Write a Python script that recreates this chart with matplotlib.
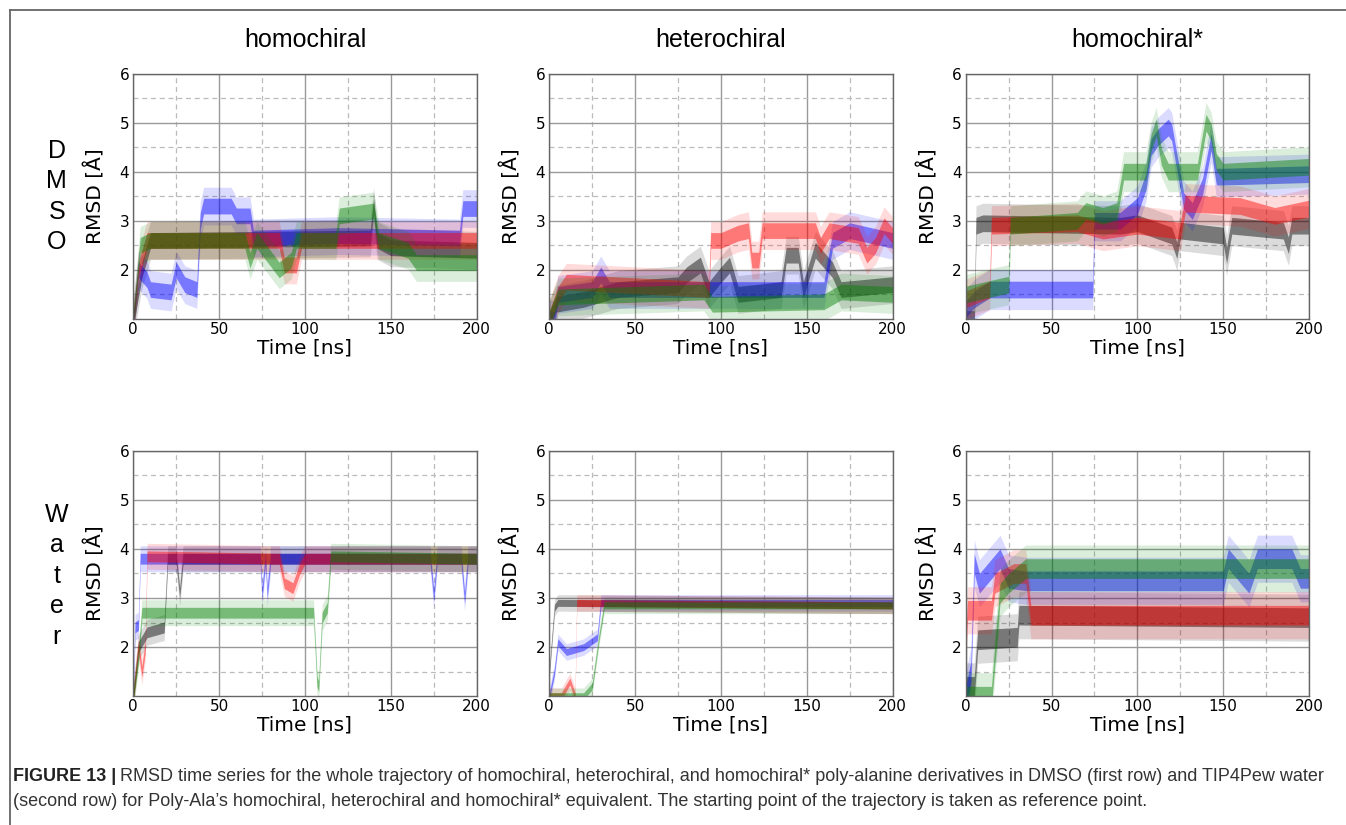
import numpy as np
import matplotlib.pyplot as plt
from matplotlib.lines import Line2D

# RMSD runs as (time [ns], RMSD [Angstrom]) knots
# DMSO, homochiral
dmso_homo_gray = [(0, 1.0), (5, 2.0), (10, 2.6), (138, 2.65), (140, 3.3), (142, 2.6),
                  (150, 2.45), (200, 2.4)]
dmso_homo_blue = [(0, 1.0), (3, 2.0), (8, 1.8), (10, 1.6), (22, 1.55), (25, 2.0), (30, 1.7),
                  (37, 1.6), (39, 3.0), (41, 3.3), (57, 3.3), (60, 3.1), (68, 3.1), (70, 2.65),
                  (120, 2.7), (190, 2.65), (192, 3.25), (200, 3.25)]
dmso_homo_red = [(0, 1.0), (3, 2.0), (8, 2.6), (85, 2.6), (88, 2.1), (95, 2.1), (98, 2.6),
                 (200, 2.6)]
dmso_homo_green = [(0, 1.0), (4, 2.5), (10, 2.6), (65, 2.6), (68, 2.2), (72, 2.6), (85, 2.0),
                   (92, 2.2), (95, 2.6), (118, 2.6), (120, 3.1), (140, 3.2), (143, 2.6),
                   (160, 2.4), (165, 2.15), (200, 2.15)]

# DMSO, heterochiral
dmso_hetero_gray = [(0, 1.0), (4, 1.3), (20, 1.4), (40, 1.6), (75, 1.7), (80, 1.9), (88, 2.1),
                    (93, 1.6), (100, 1.9), (105, 2.1), (110, 1.5), (135, 1.6), (138, 2.3),
                    (145, 2.3), (148, 1.6), (155, 2.4), (165, 2.0), (170, 1.6), (200, 1.7)]
dmso_hetero_blue = [(0, 1.0), (3, 1.0), (5, 1.5), (25, 1.6), (30, 1.9), (35, 1.6), (160, 1.6),
                    (165, 2.6), (175, 2.8), (200, 2.6)]
dmso_hetero_red = [(0, 1.0), (5, 1.5), (10, 1.75), (93, 1.6), (94, 2.6), (100, 2.6),
                   (110, 2.75), (116, 2.8), (118, 2.2), (122, 2.2), (124, 2.8), (155, 2.8),
                   (158, 2.5), (163, 2.8), (180, 2.7), (185, 2.3), (190, 2.5), (195, 2.9),
                   (200, 2.7)]
dmso_hetero_green = [(0, 1.0), (5, 1.45), (90, 1.55), (95, 1.3), (160, 1.35), (170, 1.55),
                     (200, 1.5)]

# DMSO, homochiral*
dmso_star_gray = [(0, 1.0), (5, 1.0), (6, 2.9), (10, 2.95), (90, 2.9), (100, 2.95),
                  (120, 2.7), (123, 2.4), (125, 2.8), (150, 2.7), (152, 2.3), (155, 2.9),
                  (185, 2.8), (188, 2.5), (190, 2.9), (200, 2.9)]
dmso_star_blue = [(0, 1.2), (5, 1.4), (14, 1.6), (74, 1.6), (75, 3.0), (90, 3.0), (100, 3.3),
                  (105, 3.8), (108, 4.5), (112, 4.7), (118, 4.9), (120, 4.8), (123, 4.2),
                  (127, 3.4), (132, 3.2), (138, 3.7), (143, 4.6), (146, 3.9), (150, 3.9),
                  (200, 3.95)]
dmso_star_red = [(0, 1.4), (14, 1.6), (15, 2.9), (65, 2.95), (80, 2.8), (100, 2.9),
                 (125, 2.8), (128, 3.35), (160, 3.3), (180, 3.1), (200, 3.25)]
dmso_star_green = [(0, 1.5), (25, 1.7), (26, 2.9), (65, 3.0), (70, 3.2), (80, 3.1), (88, 3.2),
                   (92, 4.0), (105, 4.0), (108, 4.6), (111, 4.9), (114, 4.3), (118, 4.0),
                   (135, 4.0), (140, 5.0), (143, 4.8), (146, 4.2), (150, 4.0), (200, 4.1)]

# Water, homochiral
water_homo_gray = [(0, 1.0), (3, 2.0), (8, 2.3), (18, 2.4), (20, 3.8), (25, 3.8), (27, 3.1),
                   (29, 3.8), (200, 3.8)]
water_homo_blue = [(0, 1.0), (1, 2.4), (3, 2.45), (4, 3.8), (74, 3.8), (75, 3.1), (77, 3.8),
                   (78, 3.1), (80, 3.8), (173, 3.8), (175, 3.05), (177, 3.8), (191, 3.8),
                   (193, 3.0), (195, 3.8), (200, 3.8)]
water_homo_red = [(0, 1.0), (3, 2.0), (5, 1.5), (7, 2.0), (8, 3.85), (85, 3.8), (88, 3.3),
                  (93, 3.2), (97, 3.6), (100, 3.8), (200, 3.8)]
water_homo_green = [(0, 1.0), (3, 1.8), (5, 2.7), (105, 2.7), (107, 1.3), (108, 1.2),
                    (110, 2.6), (113, 2.8), (115, 3.85), (200, 3.8)]

# Water, heterochiral
water_hetero_gray = [(0, 1.5), (3, 2.8), (5, 2.9), (200, 2.85)]
water_hetero_blue = [(0, 1.0), (3, 1.5), (5, 2.1), (10, 1.9), (20, 2.0), (28, 2.2), (30, 2.9),
                     (200, 2.9)]
water_hetero_red = [(0, 1.0), (7, 1.0), (12, 1.3), (15, 1.0), (16, 2.9), (200, 2.85)]
water_hetero_green = [(0, 1.0), (20, 1.0), (25, 1.2), (29, 2.2), (32, 2.85), (200, 2.85)]

# Water, homochiral*
water_star_gray = [(0, 1.2), (5, 1.2), (7, 2.15), (30, 2.2), (31, 2.65), (200, 2.6)]
water_star_blue = [(0, 1.0), (3, 1.5), (5, 3.7), (8, 3.3), (20, 3.8), (25, 3.4), (35, 3.35),
                   (150, 3.35), (153, 3.8), (165, 3.3), (170, 3.8), (190, 3.8), (195, 3.4),
                   (200, 3.4)]
water_star_red = [(0, 2.0), (1, 2.75), (15, 2.75), (17, 3.3), (28, 3.5), (35, 3.5),
                  (38, 2.65), (200, 2.65)]
water_star_green = [(0, 1.0), (15, 1.0), (20, 3.1), (25, 3.3), (35, 3.6), (200, 3.6)]

# half-width of the fluctuation band in each panel
noise_dmso = [0.16, 0.16, 0.17]
noise_water = [0.11, 0.07, 0.2]

row_names = ["DMSO", "Water"]
col_names = ["homochiral", "heterochiral", "homochiral*"]
panels = [
    [[dmso_homo_gray, dmso_homo_blue, dmso_homo_red, dmso_homo_green],
     [dmso_hetero_gray, dmso_hetero_blue, dmso_hetero_red, dmso_hetero_green],
     [dmso_star_gray, dmso_star_blue, dmso_star_red, dmso_star_green]],
    [[water_homo_gray, water_homo_blue, water_homo_red, water_homo_green],
     [water_hetero_gray, water_hetero_blue, water_hetero_red, water_hetero_green],
     [water_star_gray, water_star_blue, water_star_red, water_star_green]],
]
noise = [noise_dmso, noise_water]
run_colors = ["#000000", "#0000ff", "#ff0000", "#008000"]

W, H = 1346, 825


def draw_run(ax, knots, color, spread):
    t = np.array([k[0] for k in knots], dtype=float)
    y = np.array([k[1] for k in knots], dtype=float)
    ax.fill_between(t, y - 2.4 * spread, y + 2.4 * spread, color=color, alpha=0.14, lw=0)
    ax.fill_between(t, y - spread, y + spread, color=color, alpha=0.45, lw=0)


fig = plt.figure(figsize=(W / 100, H / 100), dpi=100)
plt.rcParams["font.family"] = "DejaVu Sans"

col_left = [133.3, 549.3, 965.7]
row_top = [73.5, 450.7]
ax_w, ax_h = 343.3, 245.5

for r in range(2):
    for c in range(3):
        ax = fig.add_axes([col_left[c] / W, 1 - (row_top[r] + ax_h) / H, ax_w / W, ax_h / H])
        for knots, col in zip(panels[r][c], run_colors):
            draw_run(ax, knots, col, noise[r][c])
        ax.set_xlim(0, 200)
        ax.set_ylim(1, 6)
        ax.set_xticks([0, 50, 100, 150, 200])
        ax.set_xticks([25, 75, 125, 175], minor=True)
        ax.set_yticks([2, 3, 4, 5, 6])
        ax.set_yticks([1.5, 2.5, 3.5, 4.5, 5.5], minor=True)
        ax.grid(which="major", color="#999999", lw=1.0, ls="-")
        ax.grid(which="minor", color="#bbbbbb", lw=0.9, ls=(0, (4, 3)))
        ax.set_axisbelow(True)
        ax.tick_params(which="both", length=0, labelsize=11, pad=3)
        ax.tick_params(axis="x", pad=2)
        for sp in ax.spines.values():
            sp.set_color("#666666")
            sp.set_linewidth(1.0)
        ax.set_xlabel("Time [ns]", fontsize=14.5, labelpad=1)
        ax.set_ylabel("RMSD [Å]", fontsize=14.5)
        ax.yaxis.set_label_coords(-0.08, 0.5)
        if r == 0:
            fig.text((col_left[c] + ax_w / 2) / W, 1 - 40 / H, col_names[c],
                     family="Liberation Sans", fontsize=18, ha="center", va="center")

# row labels, one letter per line
base_first = [158, 522]
for r, name in enumerate(row_names):
    for i, ch in enumerate(name):
        fig.text(56.7 / W, 1 - (base_first[r] + 30.4 * i) / H, ch,
                 family="Liberation Sans", fontsize=18, ha="center", va="baseline")

# frame around the figure
fig.add_artist(Line2D([10 / W, 1.0], [1 - 10 / H, 1 - 10 / H], transform=fig.transFigure,
                      color="#666666", lw=1.3))
fig.add_artist(Line2D([10 / W, 10 / W], [0.0, 1 - 10 / H], transform=fig.transFigure,
                      color="#666666", lw=1.3))

# caption
cap_color = "#333333"
bold = fig.text(13 / W, 1 - 781 / H, "FIGURE 13 |", family="Liberation Sans",
                fontsize=13, weight="bold", color="#222222", va="baseline")
fig.canvas.draw()
bb = bold.get_window_extent(renderer=fig.canvas.get_renderer())
fig.text((bb.x1 + 4) / W, 1 - 781 / H,
         "RMSD time series for the whole trajectory of homochiral, heterochiral, and homochiral* "
         "poly-alanine derivatives in DMSO (first row) and TIP4Pew water",
         family="Liberation Sans", fontsize=13, color=cap_color, va="baseline")
fig.text(13 / W, 1 - 806 / H,
         "(second row) for Poly-Ala\u2019s homochiral, heterochiral and homochiral* equivalent. "
         "The starting point of the trajectory is taken as reference point.",
         family="Liberation Sans", fontsize=13, color=cap_color, va="baseline")

fig.savefig("out.png", dpi=100)
